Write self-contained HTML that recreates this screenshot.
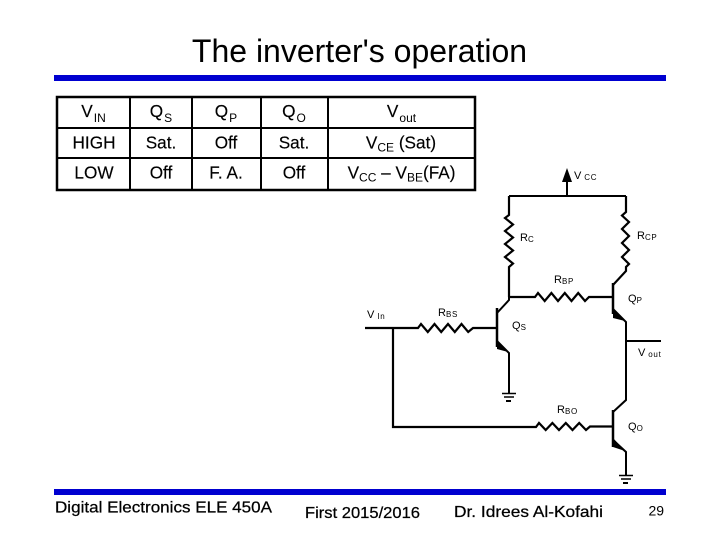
<!DOCTYPE html>
<html><head><meta charset="utf-8"><style>
html,body{margin:0;padding:0;background:#fff;width:720px;height:540px;overflow:hidden}
svg{display:block}
text{font-family:"Liberation Sans",sans-serif;fill:#000}
.t{font-size:17.200px;text-anchor:middle;stroke:#000;stroke-width:.15}
.s{font-size:12px;stroke-width:0}
.c{font-size:11px}
.c tspan{letter-spacing:.7px}
.f{stroke:#000;stroke-width:.25}
.w{fill:none;stroke:#000;stroke-width:2}
</style></head><body>
<svg width="720" height="540" viewBox="0 0 720 540" xmlns="http://www.w3.org/2000/svg">
<text x="359.500" y="62" font-size="32" text-anchor="middle">The inverter's operation</text>
<rect x="54" y="75" width="612" height="6" fill="#0000d0"/>
<rect x="54" y="489" width="612" height="6" fill="#0000d0"/>

<g fill="none" stroke="#000" stroke-width="2">
<rect x="57" y="97" width="418" height="93" stroke-width="2.500"/>
<path d="M130 97V190M192 97V190M261 97V190M328 97V190M57 128H475M57 158H475"/>
</g>
<g>
<text class="t" x="93.500" y="117">V<tspan class="s" dy="5" dx="1">IN</tspan></text>
<text class="t" x="161" y="117">Q<tspan class="s" dy="5" dx="1">S</tspan></text>
<text class="t" x="226" y="117">Q<tspan class="s" dy="5" dx="1">P</tspan></text>
<text class="t" x="294" y="117">Q<tspan class="s" dy="5" dx="1">O</tspan></text>
<text class="t" x="401.500" y="117">V<tspan class="s" dy="5" dx="1">out</tspan></text>
<text class="t" x="94" y="148.500">HIGH</text>
<text class="t" x="161" y="148.500">Sat.</text>
<text class="t" x="226" y="148.500">Off</text>
<text class="t" x="294" y="148.500">Sat.</text>
<text class="t" x="401" y="148.500">V<tspan class="s" dy="3">CE</tspan><tspan dy="-3"> (Sat)</tspan></text>
<text class="t" x="94" y="178.500">LOW</text>
<text class="t" x="161" y="178.500">Off</text>
<text class="t" x="226" y="178.500">F. A.</text>
<text class="t" x="294" y="178.500">Off</text>
<text class="t" x="401.500" y="178.500">V<tspan class="s" dy="3">CC</tspan><tspan dy="-3"> – V</tspan><tspan class="s" dy="3">BE</tspan><tspan dy="-3">(FA)</tspan></text>
</g>

<g class="w">
<!-- VCC rail -->
<path d="M567 182V196M509 196H626"/>
<!-- RC -->
<path d="M509 196V215L505 218L513 224.500L505 231L513 237.500L505 244L513 250.500L505 257L513 263.500L509 267V297" stroke-width="2.200"/>
<!-- RCP -->
<path d="M626 196V212L622 215.500L629 222L622 229L629 236L622 243L629 250L622 257L629 264L626 267V271L613 285" stroke-width="2.200"/>
<!-- RBP -->
<path d="M509 297H535L538 293L544.700 301L551.400 293L558 301L564.800 293L571.500 301L578.200 293L585 301L589 297H613" stroke-width="2.200"/>
<!-- QP -->
<path d="M613 283V314" stroke-width="2.500"/>
<path d="M613 309L626 322V400L613 412M626 341H661"/>
<!-- QS -->
<path d="M497 308V347" stroke-width="2.500"/>
<path d="M509 297V300L497 313M497 341L509 353V393"/>
<!-- RBS -->
<path d="M365 328H418L421 324L427.800 332L434.500 324L441.200 332L448 324L454.800 332L461.500 324L468.200 332L473 328H497" stroke-width="2.200"/>
<!-- Wire to RBO -->
<path d="M393 328V427H536L539 423L545.700 430L552.400 423L559 430L565.800 423L572.500 430L579.200 423L586 430L590 426.500H613" stroke-width="2.200"/>
<!-- QO -->
<path d="M613 410V447" stroke-width="2.500"/>
<path d="M613 440L626 452V475"/>
<!-- grounds -->
<path d="M502 393.500H516M504 397H514" stroke-width="1.500"/>
<path d="M619 475.500H633M621 479H631" stroke-width="1.500"/>
</g>
<g fill="#000">
<path d="M567 168L562 182H572Z"/>
<rect x="506" y="400" width="5" height="2"/>
<rect x="623" y="482" width="5" height="2"/>
<!-- emitter arrows -->
<path d="M613 308L613 318L625 321Z"/>
<path d="M497 340L497 349L508 352Z"/>
<path d="M613 438L613 447L625 451Z"/>
</g>

<text class="c" x="574" y="179">V<tspan font-size="8" dy="1"> CC</tspan></text>
<text class="c" x="520" y="241">R<tspan font-size="8" dy="1">C</tspan></text>
<text class="c" x="637" y="239">R<tspan font-size="8" dy="1">CP</tspan></text>
<text class="c" x="554" y="283">R<tspan font-size="8" dy="1">BP</tspan></text>
<text class="c" x="628" y="302">Q<tspan font-size="8" dy="1">P</tspan></text>
<text class="c" x="367" y="318">V<tspan font-size="8" dy="1"> In</tspan></text>
<text class="c" x="438" y="316">R<tspan font-size="8" dy="1">BS</tspan></text>
<text class="c" x="512" y="329">Q<tspan font-size="8" dy="1">S</tspan></text>
<text class="c" x="638" y="356">V<tspan font-size="8" dy="1"> out</tspan></text>
<text class="c" x="557" y="413">R<tspan font-size="8" dy="1">BO</tspan></text>
<text class="c" x="628" y="430">Q<tspan font-size="8" dy="1">O</tspan></text>

<text class="f" x="55" y="512.500" font-size="16" textLength="217" lengthAdjust="spacingAndGlyphs">Digital Electronics ELE 450A</text>
<text class="f" x="305" y="518" font-size="16" textLength="115" lengthAdjust="spacingAndGlyphs">First 2015/2016</text>
<text class="f" x="454" y="517" font-size="16" textLength="149" lengthAdjust="spacingAndGlyphs">Dr. Idrees Al-Kofahi</text>
<text x="648.500" y="515.500" font-size="14">29</text>
</svg>
</body></html>
